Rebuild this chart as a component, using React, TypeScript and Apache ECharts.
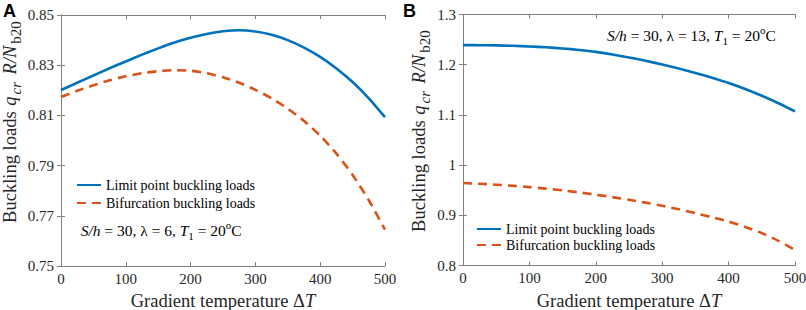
import React, { useEffect, useRef } from "react";
import * as echarts from "echarts";

// ---- data ----
const DELTA_T = [0, 25, 50, 75, 100, 125, 150, 175, 200, 225, 250, 275, 300, 325, 350, 375, 400, 425, 450, 475, 500];

// Panel A: S/h = 30, lambda = 6, T1 = 20 C
const LIMIT_A = [0.8201, 0.823, 0.8259, 0.8288, 0.8315, 0.8342, 0.8367, 0.839, 0.8409, 0.8424, 0.8435, 0.8439, 0.8434, 0.8421, 0.84, 0.837, 0.8333, 0.8287, 0.8233, 0.8168, 0.8093];
const BIFUR_A = [0.8173, 0.8198, 0.822, 0.824, 0.8256, 0.8268, 0.8276, 0.828, 0.8278, 0.8268, 0.8252, 0.823, 0.8202, 0.8168, 0.8127, 0.8078, 0.8019, 0.7948, 0.7863, 0.7762, 0.7645];

// Panel B: S/h = 30, lambda = 13, T1 = 20 C
const LIMIT_B = [1.239, 1.2388, 1.2384, 1.2376, 1.2364, 1.2347, 1.2324, 1.2294, 1.2256, 1.2204, 1.2145, 1.2078, 1.2004, 1.1923, 1.1835, 1.174, 1.1636, 1.1516, 1.1381, 1.1233, 1.107];
const BIFUR_B = [0.9642, 0.9628, 0.961, 0.9588, 0.9562, 0.9531, 0.9496, 0.9455, 0.941, 0.9362, 0.931, 0.9252, 0.919, 0.9119, 0.9042, 0.8961, 0.8876, 0.8768, 0.8645, 0.8492, 0.831];

const X_TICKS = [0, 100, 200, 300, 400, 500];
const Y_TICKS_A = [0.75, 0.77, 0.79, 0.81, 0.83, 0.85];
const Y_TICKS_B = [0.8, 0.9, 1, 1.1, 1.2, 1.3];

const NAME_LIMIT = "Limit point buckling loads";
const NAME_BIFUR = "Bifurcation buckling loads";
const PANEL_LABELS = ["A", "B"];
const NOTE_A = "{i|S/h} = 30, λ = 6, {i|T}{sub|1} = 20{sup|o}C";
const NOTE_B = "{i|S/h} = 30, λ = 13, {i|T}{sub|1} = 20{sup|o}C";

const SERIF = "'Liberation Serif', 'Times New Roman', serif";
const SANS = "'Liberation Sans', Arial, sans-serif";
const BLUE = "#0072BD";
const ORANGE = "#D95319";
const AXIS_GRAY = "#808080";
const TEXT = "#262626";

function pairs(ys: number[]) {
  return DELTA_T.map((x, i) => [x, ys[i]]);
}

const yNameRich = {
  i: { fontFamily: SERIF, fontStyle: "italic", fontSize: 18.5, color: TEXT, lineHeight: 26, padding: [0, 1, 0, 1] },
  sub: { fontFamily: SERIF, fontStyle: "italic", fontSize: 15, color: TEXT, lineHeight: 15, verticalAlign: "bottom", padding: [0, 2, 0, 1] },
  sub2: { fontFamily: SERIF, fontSize: 15, color: TEXT, lineHeight: 15, verticalAlign: "bottom", padding: [0, 0, 0, 1] },
};

const noteRich = {
  i: { fontFamily: SERIF, fontStyle: "italic", fontSize: 15.5, color: "#000", lineHeight: 22 },
  sub: { fontFamily: SERIF, fontSize: 11, color: "#000", lineHeight: 12, verticalAlign: "bottom" },
  sup: { fontFamily: SERIF, fontSize: 11, color: "#000", lineHeight: 12, verticalAlign: "top" },
};

export default function App() {
  const ref = useRef<HTMLDivElement>(null);

  useEffect(() => {
    document.body.style.margin = "0";
    if (!ref.current) return;
    const chart = echarts.init(ref.current, null, { renderer: "svg" });

    const xBottom = (grid: number) => ({
      type: "value",
      gridIndex: grid,
      min: 0,
      max: 500,
      interval: 100,
      position: "bottom",
      name: "Gradient temperature Δ{i|T}",
      nameLocation: "middle",
      nameGap: 18,
      nameTextStyle: {
        fontFamily: SERIF,
        fontSize: 18.5,
        color: TEXT,
        lineHeight: 21,
        rich: { i: { fontFamily: SERIF, fontStyle: "italic", fontSize: 18.5, color: TEXT, lineHeight: 21 } },
      },
      axisLine: { show: true, lineStyle: { color: AXIS_GRAY, width: 1 } },
      axisTick: { show: true, inside: true, length: 4, lineStyle: { color: AXIS_GRAY }, customValues: X_TICKS },
      axisLabel: { fontFamily: SERIF, fontSize: 15, color: TEXT, margin: 5, customValues: X_TICKS },
      splitLine: { show: false },
    });
    const xTop = (grid: number) => ({
      type: "value",
      gridIndex: grid,
      min: 0,
      max: 500,
      interval: 100,
      position: "top",
      axisLine: { show: true, lineStyle: { color: AXIS_GRAY, width: 1 } },
      axisTick: { show: true, inside: true, length: 4, lineStyle: { color: AXIS_GRAY }, customValues: X_TICKS },
      axisLabel: { show: false },
      splitLine: { show: false },
    });
    const yLeft = (grid: number, min: number, max: number, ticks: number[], fmt: (v: number) => string, gap: number, pad: number) => ({
      type: "value",
      gridIndex: grid,
      min,
      max,
      position: "left",
      name: "Buckling loads {i|q}{sub|cr} {i|R/N}{sub2|b20}",
      nameLocation: "middle",
      nameRotate: 90,
      nameGap: gap,
      nameTextStyle: {
        fontFamily: SERIF,
        fontSize: 18.5,
        color: TEXT,
        lineHeight: 26,
        padding: [0, 0, 0, pad],
        rich: yNameRich,
      },
      axisLine: { show: true, lineStyle: { color: AXIS_GRAY, width: 1 } },
      axisTick: { show: true, inside: true, length: 4, lineStyle: { color: AXIS_GRAY }, customValues: ticks },
      axisLabel: { fontFamily: SERIF, fontSize: 15, color: TEXT, margin: 7, customValues: ticks, formatter: fmt },
      splitLine: { show: false },
    });
    const yRight = (grid: number, min: number, max: number, ticks: number[]) => ({
      type: "value",
      gridIndex: grid,
      min,
      max,
      position: "right",
      axisLine: { show: true, lineStyle: { color: AXIS_GRAY, width: 1 } },
      axisTick: { show: true, inside: true, length: 4, lineStyle: { color: AXIS_GRAY }, customValues: ticks },
      axisLabel: { show: false },
      splitLine: { show: false },
    });

    const line = (name: string, xi: number, yi: number, ys: number[], color: string, dashed: boolean) => ({
      type: "line",
      name,
      xAxisIndex: xi,
      yAxisIndex: yi,
      data: pairs(ys),
      smooth: 0.2,
      symbol: "none",
      showSymbol: false,
      lineStyle: { color, width: 2.6, type: dashed ? [9, 6] : "solid" },
      itemStyle: { color },
      emphasis: { disabled: true },
    });

    const legendBase = {
      orient: "vertical",
      padding: 0,
      itemWidth: 24,
      itemHeight: 16,
      selectedMode: false,
      data: [NAME_LIMIT, NAME_BIFUR],
      itemStyle: { opacity: 0 },
      textStyle: { fontFamily: SERIF, fontSize: 14, color: "#000", lineHeight: 16 },
    };

    chart.setOption({
      animation: false,
      backgroundColor: "#ffffff",
      grid: [
        { left: 61, top: 15, width: 324, height: 251, containLabel: false, outerBoundsMode: "none" },
        { left: 463, top: 14.5, width: 332, height: 251, containLabel: false, outerBoundsMode: "none" },
      ],
      xAxis: [xBottom(0), xTop(0), xBottom(1), xTop(1)],
      yAxis: [
        yLeft(0, 0.75, 0.85, Y_TICKS_A, (v: number) => v.toFixed(2), 38, 37),
        yRight(0, 0.75, 0.85, Y_TICKS_A),
        yLeft(1, 0.8, 1.3, Y_TICKS_B, (v: number) => String(v), 31, 18),
        yRight(1, 0.8, 1.3, Y_TICKS_B),
      ],
      legend: [
        { ...legendBase, left: 76, top: 177, itemGap: 2 },
        { ...legendBase, left: 476, top: 221, itemGap: 0 },
      ],
      series: [
        line(NAME_LIMIT, 0, 0, LIMIT_A, BLUE, false),
        line(NAME_BIFUR, 0, 0, BIFUR_A, ORANGE, true),
        line(NAME_LIMIT, 2, 2, LIMIT_B, BLUE, false),
        line(NAME_BIFUR, 2, 2, BIFUR_B, ORANGE, true),
      ],
      graphic: [
        {
          type: "text",
          x: 3,
          y: 2,
          style: { text: PANEL_LABELS[0], fontFamily: SANS, fontWeight: "bold", fontSize: 18, fill: "#000", verticalAlign: "top" },
        },
        {
          type: "text",
          x: 403,
          y: 2,
          style: { text: PANEL_LABELS[1], fontFamily: SANS, fontWeight: "bold", fontSize: 18, fill: "#000", verticalAlign: "top" },
        },
        {
          type: "text",
          x: 80.7,
          y: 230,
          style: {
            text: NOTE_A,
            fontFamily: SERIF,
            fontSize: 15.5,
            fill: "#000",
            lineHeight: 22,
            verticalAlign: "middle",
            rich: noteRich,
          },
        },
        {
          type: "text",
          x: 607,
          y: 35,
          style: {
            text: NOTE_B,
            fontFamily: SERIF,
            fontSize: 15.5,
            fill: "#000",
            lineHeight: 22,
            verticalAlign: "middle",
            rich: noteRich,
          },
        },
      ],
    });

    return () => {
      chart.dispose();
    };
  }, []);

  return <div ref={ref} style={{ width: 806, height: 310 }} />;
}
